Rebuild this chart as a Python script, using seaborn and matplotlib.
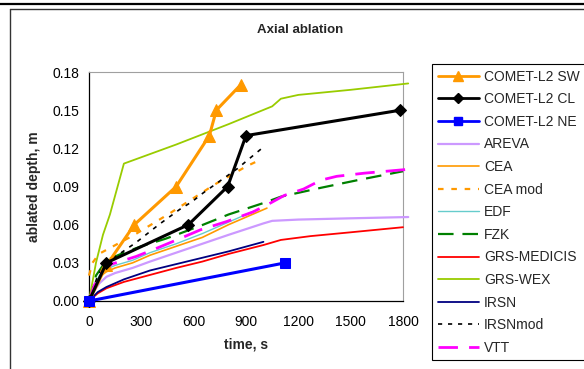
import numpy as np
import pandas as pd
import matplotlib
matplotlib.use("Agg")
import matplotlib.pyplot as plt
import seaborn as sns
from matplotlib.lines import Line2D

# ---- data ----
sw_t = [0, 100, 260, 500, 690, 730, 870]
sw_v = [0, 0.028, 0.060, 0.090, 0.130, 0.150, 0.170]

cl_t = [0, 100, 570, 795, 900, 1785]
cl_v = [0, 0.030, 0.060, 0.090, 0.130, 0.150]

ne_t = [0, 1125]
ne_v = [0, 0.030]

areva_t = [0, 30, 60, 100, 150, 250, 350, 500, 650, 800, 1000, 1050, 1200, 1500, 1830]
areva_v = [0, 0.008, 0.014, 0.019, 0.022, 0.026, 0.031, 0.038, 0.045, 0.052, 0.061, 0.063, 0.064, 0.065, 0.066]

cea_t = [0, 30, 60, 100, 150, 250, 350, 500, 650, 800, 1020]
cea_v = [0, 0.012, 0.019, 0.023, 0.026, 0.030, 0.036, 0.043, 0.050, 0.060, 0.073]

ceamod_t = [0, 20, 57, 260, 464, 646, 713, 904, 990]
ceamod_v = [0.020, 0.030, 0.037, 0.052, 0.069, 0.085, 0.091, 0.106, 0.1115]

edf_t = [0, 30, 60, 100, 150, 250, 350, 500, 650, 800, 950]
edf_v = [0, 0.013, 0.020, 0.025, 0.028, 0.032, 0.038, 0.045, 0.053, 0.062, 0.071]

fzk_t = [0, 40, 100, 200, 300, 440, 520, 655, 800, 1000, 1100, 1330, 1540, 1800]
fzk_v = [0, 0.020, 0.032, 0.038, 0.043, 0.049, 0.053, 0.060, 0.068, 0.077, 0.082, 0.089, 0.095, 0.102]

medicis_t = [0, 50, 100, 200, 350, 500, 650, 800, 1000, 1100, 1270, 1500, 1800]
medicis_v = [0, 0.006, 0.010, 0.015, 0.0205, 0.026, 0.031, 0.037, 0.044, 0.048, 0.051, 0.054, 0.058]

wex_t = [0, 40, 80, 120, 200, 500, 800, 1050, 1100, 1200, 1500, 1830]
wex_v = [0, 0.030, 0.052, 0.068, 0.108, 0.123, 0.139, 0.153, 0.159, 0.162, 0.166, 0.171]

irsn_t = [0, 50, 100, 200, 350, 500, 650, 800, 1000]
irsn_v = [0, 0.007, 0.011, 0.017, 0.024, 0.029, 0.034, 0.039, 0.0465]

irsnmod_t = [0, 50, 100, 270, 335, 400, 520, 590, 655, 850, 920, 1000]
irsnmod_v = [0, 0.020, 0.030, 0.046, 0.053, 0.060, 0.072, 0.078, 0.085, 0.104, 0.112, 0.121]

vtt_t = [0, 30, 60, 130, 270, 380, 520, 640, 790, 940, 1040, 1120, 1230, 1330, 1420, 1580, 1830]
vtt_v = [0, 0.012, 0.021, 0.029, 0.035, 0.041, 0.049, 0.056, 0.0625, 0.070, 0.077, 0.083, 0.088, 0.095, 0.098, 0.1005, 0.1035]

xticks = [0, 300, 600, 900, 1200, 1500, 1800]
yticks = [0.00, 0.03, 0.06, 0.09, 0.12, 0.15, 0.18]

# ---- style ----
sns.set_style("white")
plt.rcParams['font.family'] = ['Liberation Sans', 'DejaVu Sans']

fig = plt.figure(figsize=(5.84, 3.69), dpi=100)
ax = fig.add_axes([89/584, 1-301/369, (403-89)/584, (301-72)/369])

series = [
    ("COMET-L2 SW", sw_t, sw_v, dict(color="#FF9900", lw=2.2, marker="^", ms=8)),
    ("COMET-L2 CL", cl_t, cl_v, dict(color="black", lw=2.2, marker="D", ms=6)),
    ("COMET-L2 NE", ne_t, ne_v, dict(color="#0000FF", lw=2.2, marker="s", ms=7)),
    ("AREVA", areva_t, areva_v, dict(color="#CC99FF", lw=1.6)),
    ("CEA", cea_t, cea_v, dict(color="#FF9900", lw=1.2)),
    ("CEA mod", ceamod_t, ceamod_v, dict(color="#FF9900", lw=1.6, linestyle=(0, (2.5, 3.5)))),
    ("EDF", edf_t, edf_v, dict(color="#66CCCC", lw=1.0)),
    ("FZK", fzk_t, fzk_v, dict(color="#008000", lw=1.6, linestyle=(0, (7, 4)))),
    ("GRS-MEDICIS", medicis_t, medicis_v, dict(color="#FF0000", lw=1.3)),
    ("GRS-WEX", wex_t, wex_v, dict(color="#99CC00", lw=1.3)),
    ("IRSN", irsn_t, irsn_v, dict(color="#000080", lw=1.3)),
    ("IRSNmod", irsnmod_t, irsnmod_v, dict(color="black", lw=1.2, linestyle=(0, (2.5, 3.5)))),
    ("VTT", vtt_t, vtt_v, dict(color="#FF00FF", lw=2.0, linestyle=(0, (7, 4)))),
]

# draw order: model curves first, experiments on top
draw_order = series[3:] + series[:3]
for name, t, v, kw in draw_order:
    df = pd.DataFrame({"t": t, "v": v})
    kw2 = dict(kw)
    marker = kw2.pop("marker", None)
    ms = kw2.pop("ms", None)
    ls = kw2.pop("linestyle", "-")
    sns.lineplot(data=df, x="t", y="v", ax=ax, sort=False, estimator=None,
                 color=kw2["color"], linewidth=kw2["lw"], legend=False)
    line = ax.get_lines()[-1]
    line.set_linestyle(ls)
    line.set_clip_on(False)
    if marker:
        line.set_marker(marker)
        line.set_markersize(ms)
        line.set_markerfacecolor(kw2["color"])
        line.set_markeredgecolor(kw2["color"])
    line.set_zorder(5 if marker else 3)

ax.set_xlim(0, 1800)
ax.set_ylim(0, 0.18)
ax.set_xticks(xticks)
ax.set_xticklabels([str(x) for x in xticks])
ax.set_yticks(yticks)
ax.set_yticklabels([f"{y:.2f}" for y in yticks])
ax.tick_params(axis="both", direction="out", length=4, width=0.8, labelsize=10,
               colors="black", pad=3)
ax.tick_params(axis="x", pad=6)
for s in ["top", "right"]:
    ax.spines[s].set_color("#A0A0A0")
    ax.spines[s].set_linewidth(0.8)
for s in ["left", "bottom"]:
    ax.spines[s].set_color("black")
    ax.spines[s].set_linewidth(0.9)
ax.grid(False)

ax.set_xlabel("time, s", fontsize=10, fontweight="bold", labelpad=6)
ax.set_ylabel("ablated depth, m", fontsize=10, fontweight="bold", labelpad=8)
fig.text(300/584, 1-30/369, "Axial ablation", fontsize=9.5, fontweight="bold",
         ha="center", va="center")

# legend
handles = []
for name, t, v, kw in series:
    handles.append(Line2D([0], [0], color=kw["color"],
                          lw=min(kw["lw"], 2.0),
                          linestyle=kw.get("linestyle", "-"),
                          marker=kw.get("marker", None),
                          markersize=(kw.get("ms", 6) - 1) if kw.get("marker") else 0,
                          markerfacecolor=kw["color"], markeredgecolor=kw["color"]))
leg = fig.legend(handles, [s[0] for s in series], loc="upper left",
                 bbox_to_anchor=(432/584, 1-64/369), bbox_transform=fig.transFigure,
                 fontsize=10, frameon=True, fancybox=False, framealpha=1,
                 handlelength=3.0, handletextpad=0.35, labelspacing=0.62,
                 borderpad=0.4, borderaxespad=0)
leg.get_frame().set_edgecolor("black")
leg.get_frame().set_linewidth(0.8)

# outer frame lines (document border)
fig.add_artist(Line2D([0, 1], [1-3.7/369, 1-3.7/369], transform=fig.transFigure,
                      color="black", lw=1.6))
fig.add_artist(Line2D([10/584, 1], [1-8.8/369, 1-8.8/369], transform=fig.transFigure,
                      color="#333333", lw=1.0))
fig.add_artist(Line2D([10/584, 10/584], [0, 1-8.8/369], transform=fig.transFigure,
                      color="#333333", lw=1.0))

fig.savefig("out.png", dpi=100)
